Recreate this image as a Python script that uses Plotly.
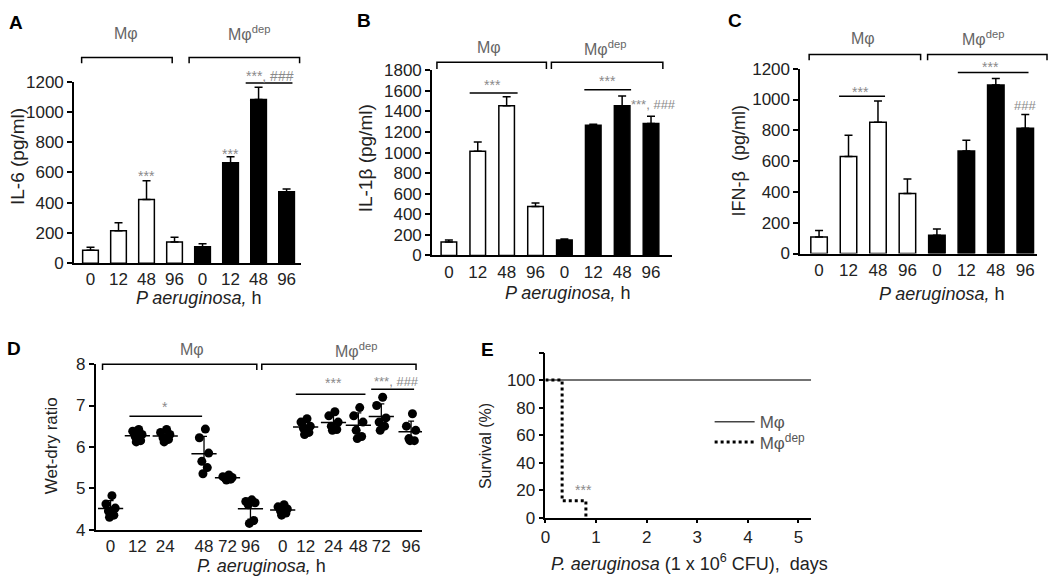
import numpy as np
import plotly.graph_objects as go

W, H = 1050, 588


def px(x):
    return x / W


def py(y):
    return 1 - y / H


# ---------------- data ----------------
HOURS_ABC = ["0", "12", "48", "96", "0", "12", "48", "96"]
GROUP_ABC = ["Mφ"] * 4 + ["Mφdep"] * 4

IL6_MEAN = [85, 215, 421, 140, 108, 664, 1081, 472]
IL6_ERR = [21, 53, 124, 32, 20, 40, 81, 19]

IL1B_MEAN = [132, 1013, 1455, 476, 150, 1266, 1455, 1282]
IL1B_ERR = [18, 90, 87, 35, 10, 10, 94, 72]

IFNB_MEAN = [107, 630, 852, 390, 119, 666, 1095, 813]
IFNB_ERR = [42, 138, 139, 94, 40, 69, 42, 90]

HOURS_D = ["0", "12", "24", "48", "72", "96", "0", "12", "24", "48", "72", "96"]
WETDRY = [
    [4.82, 4.62, 4.52, 4.45, 4.35, 4.30],   # Mφ 0
    [6.42, 6.38, 6.30, 6.25, 6.15, 6.12],   # Mφ 12
    [6.42, 6.35, 6.30, 6.22, 6.18, 6.12],   # Mφ 24
    [6.43, 6.22, 5.85, 5.65, 5.50, 5.35],   # Mφ 48
    [5.32, 5.28, 5.26, 5.24, 5.22, 5.20],   # Mφ 72
    [4.72, 4.68, 4.65, 4.60, 4.22, 4.15],   # Mφ 96
    [4.60, 4.55, 4.50, 4.45, 4.40, 4.35],   # dep 0
    [6.68, 6.60, 6.50, 6.45, 6.35, 6.30],   # dep 12
    [6.85, 6.75, 6.60, 6.50, 6.42, 6.40],   # dep 24
    [6.95, 6.75, 6.60, 6.40, 6.25, 6.20],   # dep 48
    [7.20, 7.00, 6.70, 6.60, 6.50, 6.40],   # dep 72
    [6.80, 6.50, 6.40, 6.20, 6.15, 6.15],   # dep 96
]

SURV_DAYS_MPHI = [0, 5.25]
SURV_MPHI = [100, 100]
SURV_DAYS_DEP = [0, 0.33, 0.33, 0.8, 0.8]
SURV_DEP = [100, 100, 12.5, 12.5, 0]

# ---------------- layout constants ----------------
D_SLOTS = [0, 0.98, 2.0, 3.42, 4.28, 5.12, 6.30, 7.14, 8.16, 9.07, 9.91, 11.0]
JITTER = [0.05, -0.17, 0.17, -0.08, 0.12, -0.04]

FONT = "Arial, Liberation Sans, sans-serif"
TICKFONT = dict(family=FONT, size=17, color="#222")
GRAY = "#8a8a8a"
LABGRAY = "#666"

fig = go.Figure()

panels = [
    ("x", "y", IL6_MEAN, IL6_ERR, 0.56),
    ("x2", "y2", IL1B_MEAN, IL1B_ERR, 0.54),
    ("x3", "y3", IFNB_MEAN, IFNB_ERR, 0.56),
]
for xa, ya, mean, err, bw in panels:
    idx = list(range(len(mean)))
    colors = ["white" if g == "Mφ" else "black" for g in GROUP_ABC]
    fig.add_trace(go.Bar(
        x=idx, y=mean, width=bw, xaxis=xa, yaxis=ya,
        marker=dict(color=colors, line=dict(color="black", width=1.5)),
        error_y=dict(type="data", symmetric=False, array=err,
                     arrayminus=[0] * len(err), color="black",
                     thickness=1.5, width=4),
        showlegend=False, hoverinfo="skip",
    ))

# Panel D scatter
for gi, vals in enumerate(WETDRY):
    xs = [D_SLOTS[gi] + JITTER[k] for k in range(len(vals))]
    fig.add_trace(go.Scatter(
        x=xs, y=vals, mode="markers", xaxis="x4", yaxis="y4",
        marker=dict(color="black", size=9),
        showlegend=False, hoverinfo="skip", cliponaxis=False,
    ))
    m = float(np.mean(vals))
    sd = float(np.std(vals, ddof=1))
    fig.add_trace(go.Scatter(
        x=[D_SLOTS[gi]], y=[m], mode="markers", xaxis="x4", yaxis="y4",
        marker=dict(symbol="line-ew-open", size=18, color="black",
                    line=dict(color="black", width=1.5)),
        error_y=dict(type="data", array=[sd], color="black", thickness=1.3, width=3),
        showlegend=False, hoverinfo="skip",
    ))

# Panel E survival
fig.add_trace(go.Scatter(
    x=SURV_DAYS_MPHI, y=SURV_MPHI, mode="lines", xaxis="x5", yaxis="y5",
    line=dict(color="#444", width=1.5), name="Mφ", legend="legend",
))
fig.add_trace(go.Scatter(
    x=SURV_DAYS_DEP, y=SURV_DEP, mode="lines", xaxis="x5", yaxis="y5",
    line=dict(color="black", width=3, dash="dot"), name="Mφ<sup>dep</sup>",
    legend="legend2",
))


# ---------------- axes ----------------
def yax(n, dom, rng, dtick, extra=None):
    d = dict(domain=[py(dom[1]), py(dom[0])], range=rng, dtick=dtick,
             anchor="x" if n == 1 else f"x{n}",
             showline=True, linecolor="black", linewidth=1.5,
             ticks="outside", ticklen=5, tickwidth=1.5, tickcolor="black",
             showgrid=False, zeroline=False, tickfont=TICKFONT, fixedrange=True)
    if extra:
        d.update(extra)
    return d


def xax(n, dom, rng, tickvals, ticktext, ticks=""):
    return dict(domain=[px(dom[0]), px(dom[1])], range=rng,
                anchor="y" if n == 1 else f"y{n}",
                tickvals=tickvals, ticktext=ticktext,
                showline=True, linecolor="black", linewidth=1.5,
                ticks=ticks, ticklen=3, tickwidth=1.5, tickcolor="black",
                showgrid=False, zeroline=False, tickfont=TICKFONT, fixedrange=True)


LEGFONT = dict(family=FONT, size=17, color="#555")
idx8 = list(range(8))
layout = dict(
    width=W, height=H, margin=dict(l=0, r=0, t=0, b=0),
    paper_bgcolor="white", plot_bgcolor="white",
    font=dict(family=FONT, color="#222"),
    xaxis=xax(1, (69.3, 297), [-0.59, 7.5], idx8, HOURS_ABC),
    yaxis=yax(1, (75, 262.7), [0, 1200], 200),
    xaxis2=xax(2, (429, 670), [-0.586, 7.72], idx8, HOURS_ABC),
    yaxis2=yax(2, (63.3, 254.7), [0, 1800], 200),
    xaxis3=xax(3, (799, 1037), [-0.64, 7.4], idx8, HOURS_ABC),
    yaxis3=yax(3, (61.7, 252.7), [0, 1200], 200),
    xaxis4=xax(4, (91, 419), [-0.55, 11.4], D_SLOTS, HOURS_D),
    yaxis4=yax(4, (367, 538), [4, 8], 1),
    xaxis5=xax(5, (543, 810), [0, 5.25], [0, 1, 2, 3, 4, 5],
               ["0", "1", "2", "3", "4", "5"], ticks="outside"),
    yaxis5=yax(5, (355, 526), [0, 120], 20,
               extra=dict(tickvals=[0, 20, 40, 60, 80, 100, 120],
                          ticktext=["0", "20", "40", "60", "80", "100", ""])),
    legend=dict(x=px(708), y=py(427), xanchor="left", yanchor="middle",
                bgcolor="rgba(0,0,0,0)", font=LEGFONT, itemwidth=40),
    legend2=dict(x=px(708), y=py(448), xanchor="left", yanchor="middle",
                 bgcolor="rgba(0,0,0,0)", font=LEGFONT, itemwidth=40),
    showlegend=True,
)
fig.update_layout(**layout)

ann = []
shapes = []


def text(x, y, s, size=16, color="#222", xref="paper", yref="paper", angle=0,
         bold=False, yshift=0, xanchor="center"):
    if bold:
        s = "<b>" + s + "</b>"
    ann.append(dict(x=x, y=y, xref=xref, yref=yref, text=s, showarrow=False,
                    font=dict(family=FONT, size=size, color=color),
                    textangle=angle, xanchor=xanchor, yanchor="middle", yshift=yshift))


# panel letters
for lbl, (x, y) in {"A": (11, 14), "B": (361, 12), "C": (733, 12),
                    "D": (9, 351), "E": (485, 352)}.items():
    text(px(x), py(y), lbl, size=19, color="black", bold=True)

# y titles
text(px(12), py(152), "IL-6 (pg/ml)", size=19, angle=-90)
text(px(362), py(154), "IL-1β (pg/ml)", size=19, angle=-90)
text(px(737), py(157), "IFN-β  (pg/ml)", size=18, angle=-90)
text(px(47), py(451), "Wet-dry ratio", size=17, angle=-90)
text(px(483), py(452), "Survival (%)", size=16, angle=-90)

# x titles
text(px(194), py(299), "<i>P aeruginosa,</i> h", size=18)
text(px(565), py(293), "<i>P aeruginosa,</i> h", size=18)
text(px(941), py(295), "<i>P aeruginosa,</i> h", size=18)
text(px(258), py(576), "<i>P. aeruginosa,</i> h", size=18)
text(px(688), py(572), "<i>P. aeruginosa</i> (1 x 10<sup>6</sup> CFU),  days", size=18)


# brackets
def bracket(x0, x1, ytop, drop, label, lx, ly):
    shapes.append(dict(type="path", xref="paper", yref="paper",
                       path=f"M {px(x0)},{py(ytop + drop)} L {px(x0)},{py(ytop)} "
                            f"L {px(x1)},{py(ytop)} L {px(x1)},{py(ytop + drop)}",
                       line=dict(color="black", width=1.5)))
    text(px(lx), py(ly), label, size=16, color=LABGRAY)


DEP = "Mφ<sup>dep</sup>"
bracket(77, 168, 50, 6, "Mφ", 122, 25)
bracket(185, 296, 50, 6, DEP, 245, 25)
bracket(434, 544, 55, 7, "Mφ", 486, 40)
bracket(549, 661, 55, 7, DEP, 603, 40)
bracket(808, 920, 47, 6, "Mφ", 862, 30)
bracket(927, 1047, 47, 6, DEP, 983, 30)
bracket(98, 253, 367, 6, "Mφ", 188, 352)
bracket(258, 413, 367, 6, DEP, 353, 352)


# significance lines (data coords)
def sigline(xa, ya, x0, x1, y):
    shapes.append(dict(type="line", xref=xa, yref=ya, x0=x0, x1=x1, y0=y, y1=y,
                       line=dict(color="black", width=1.5)))


def sigtext(xa, ya, x, y, s, size=14):
    shift = -4 if s.startswith("*") else 0
    text(x, y, s, size=size, color=GRAY, xref=xa, yref=ya, yshift=shift)


# A
sigtext("x", "y", 2, 602, "***")
sigtext("x", "y", 5, 751, "***")
sigline("x", "y", 5.54, 7.21, 1191)
sigtext("paper", "paper", px(266), py(65), "***, ###")
# B
sigline("x2", "y2", 0.72, 2.38, 1580)
sigtext("x2", "y2", 1.52, 1696, "***")
sigline("x2", "y2", 4.69, 6.31, 1611)
sigtext("x2", "y2", 5.48, 1737, "***")
sigtext("x2", "y2", 7.1, 1504, "***, ###", size=13)
# C
sigline("x3", "y3", 0.68, 2.24, 1021)
sigtext("x3", "y3", 1.39, 1074, "***")
sigline("x3", "y3", 4.71, 7.11, 1175)
sigtext("paper", "paper", px(990), py(56), "***")
sigtext("x3", "y3", 7.0, 963, "###", size=13)
# D
sigline("x4", "y4", 0.69, 3.35, 6.74)
sigtext("x4", "y4", 2.0, 7.06, "*")
sigline("x4", "y4", 6.78, 9.33, 7.27)
sigtext("x4", "y4", 8.16, 7.63, "***")
sigline("x4", "y4", 9.54, 11.11, 7.39)
sigtext("x4", "y4", 10.45, 7.67, "***, ###", size=13)
# E
sigtext("x5", "y5", 0.76, 23, "***")

fig.update_layout(annotations=ann, shapes=shapes)
fig.write_html("out.html",
               config={"displayModeBar": False},
               post_script="document.body.style.margin='0px';")
